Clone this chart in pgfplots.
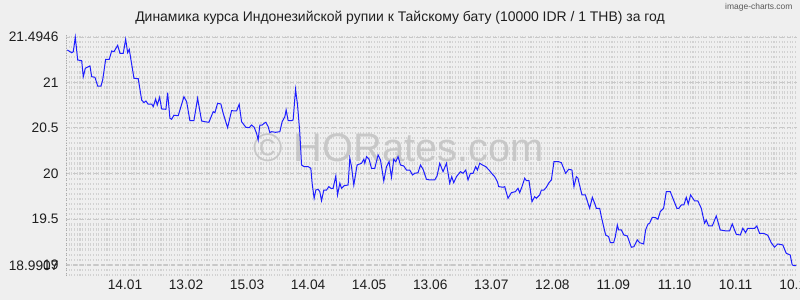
\documentclass[border=0pt]{standalone}
\usepackage{pgfplots}
\pgfplotsset{compat=1.18}
\usepackage{fontspec}
\setmainfont{Liberation Sans}
\definecolor{bg}{HTML}{EFEFEF}
\definecolor{gridc}{HTML}{D2D2D2}
\definecolor{majc}{HTML}{C8C8C8}
\definecolor{linec}{HTML}{1E1EFF}
\definecolor{wm}{HTML}{C2C2C2}
\begin{document}
\begin{tikzpicture}
\fill[bg] (-66bp,-24bp) rectangle (734bp,276bp);
\path[use as bounding box] (-66bp,-24bp) rectangle (734bp,276bp);
\node[font=\fontsize{14}{16}\selectfont, text=black!88] at (334bp,258bp) {Динамика курса Индонезийской рупии к Тайскому бату (10000 IDR / 1 THB) за год};
\node[font=\fontsize{8.5}{9}\selectfont, text=black!65, anchor=east] at (730bp,269bp) {image-charts.com};
\begin{axis}[
  at={(0,0)}, anchor=south west,
  scale only axis, width=731bp, height=241bp,
  xmin=0, xmax=731.5, ymin=18.878, ymax=21.518,
  axis line style={draw=none},
  xtick={59,120.1,181.2,242.3,303.4,364.5,425.6,486.7,547.8,608.9,670,731.1},
  xticklabels={14.01,13.02,15.03,14.04,14.05,13.06,13.07,12.08,11.09,11.10,10.11,10.12},
  ytick={18.9907,19,19.5,20,20.5,21,21.4946},
  yticklabels={18.9907,19,19.5,20,20.5,21,21.4946},
  minor ytick={18.8889,18.9444,...,21.52},
  major tick length=0pt, minor tick length=0pt,
  ymajorgrids, yminorgrids,
  major grid style={majc, line width=0.9bp, dash pattern=on 4bp off 3bp},
  minor grid style={gridc, line width=2.4bp, dash pattern=on 1.1bp off 1.6bp},
  yticklabel style={font=\fontsize{13.8}{14}\selectfont, text=black!88, xshift=-4bp},
  xticklabel style={font=\fontsize{13.8}{14}\selectfont, text=black!88},
  clip=false,
]
\node[font=\fontsize{40}{40}\selectfont, text=wm, opacity=0.85] at (axis cs:333,20.28) {© HORates.com};
\addplot[linec, line width=1bp, mark=none] coordinates {
(1.3,21.354)(5.7,21.324)(7.3,21.335)(9.3,21.4946)(11.7,21.244)(15.7,21.237)(17.3,21.061)(19.3,21.153)
(22.3,21.171)(24,21.179)(25.7,21.061)(29,21.055)(31.7,20.959)(35,20.959)(36.7,21.025)(39.7,21.252)
(43.3,21.252)(45.7,21.343)(48,21.335)(51.7,21.405)(54,21.318)(57.3,21.318)(59.7,21.471)(61.7,21.324)
(63.3,21.361)(68,21.044)(72.3,21.039)(75.7,20.806)(78,20.777)(80,20.795)(82,20.762)(85.7,20.762)
(87.3,20.733)(89.7,20.817)(91.3,20.751)(93.7,20.836)(95.7,20.708)(100,20.704)(101.7,20.886)(104,20.606)
(105.7,20.595)(108,20.639)(112.3,20.634)(118,20.842)(120.7,20.788)(124,20.579)(128,20.579)(131.7,20.825)
(135.7,20.576)(139,20.568)(143,20.562)(147.3,20.678)(149,20.667)(151.7,20.770)(155,20.762)(157.3,20.660)
(161.7,20.503)(165.7,20.689)(170.7,20.686)(173.3,20.759)(175.7,20.568)(180,20.507)(183.3,20.503)(185.7,20.532)
(188.3,20.507)(190.7,20.441)(192.3,20.368)(194,20.532)(196.3,20.532)(198.3,20.551)(200,20.562)(202.3,20.514)
(204,20.448)(205.7,20.459)(209.7,20.452)(214,20.459)(216.3,20.568)(219,20.623)(220.3,20.697)(222.3,20.579)
(225.7,20.579)(227.3,20.587)(229.7,20.923)(231.7,20.751)(234,20.441)(235.7,20.094)(238.3,20.076)(242.3,20.076)
(245,20.058)(246.3,19.894)(248.3,19.729)(250,19.820)(252.3,19.828)(254,19.802)(255.7,19.703)(258,19.820)
(260.7,19.820)(263,19.857)(265,19.839)(267.3,19.839)(270,19.974)(271.7,19.766)(274,19.894)(275.7,19.839)
(278.3,19.867)(282.3,19.875)(284,20.168)(285.7,20.076)(288,19.875)(291.3,20.094)(295.7,20.113)(298,20.157)
(299,20.113)(300.7,20.185)(303.3,20.157)(305.7,20.058)(309,20.058)(312.3,20.204)(314.7,20.149)(318,19.919)
(320.7,20.076)(323.3,20.130)(325.7,19.959)(328,20.157)(330,20.130)(332.3,20.185)(334.7,20.094)(338,20.083)
(340.7,20.039)(344,20.039)(346.7,19.985)(349,20.003)(352.3,20.010)(354.7,20.094)(357.3,20.047)(360.7,19.938)
(364,19.930)(369,19.930)(371.3,19.974)(374,20.113)(377.3,20.021)(380.7,20.113)(384,19.894)(386,19.966)
(388,19.900)(390.7,19.966)(394.7,20.021)(397.3,20.003)(400,20.039)(402.3,19.930)(404.7,20.003)(407.3,20.003)
(410,20.076)(411.7,20.039)(414,20.113)(416.7,20.094)(420,20.076)(423.3,20.039)(427.3,19.985)(429,19.966)
(431.7,19.911)(433,19.857)(437.3,19.850)(439,19.857)(442.3,19.729)(445.7,19.791)(449.7,19.802)(452.3,19.839)
(454,19.791)(456.3,19.857)(459,19.949)(460.7,19.922)(463.3,19.922)(466.3,19.692)(469,19.747)(470.7,19.729)
(474,19.766)(475.7,19.820)(478.3,19.820)(480.7,19.850)(483.3,19.900)(485.7,19.930)(488.3,20.130)(493,20.130)
(495.7,20.119)(500,20.003)(503,20.047)(506.3,20.039)(508.3,19.857)(510.7,19.966)(512.3,19.949)(516.3,19.766)
(519.7,19.766)(524,19.620)(526.7,19.740)(529,19.675)(530.7,19.620)(534,19.620)(535.7,19.528)(540,19.327)
(543,19.309)(544.7,19.243)(548,19.243)(549.7,19.309)(551.7,19.437)(553,19.382)(555.7,19.382)(558.3,19.327)
(561.7,19.317)(565.7,19.193)(568.3,19.199)(571.7,19.273)(574,19.243)(578,19.229)(580,19.382)(582.3,19.445)
(584,19.456)(586.7,19.521)(590,19.517)(592.3,19.499)(594.7,19.583)(598,19.620)(600.7,19.802)(604.7,19.802)
(607.3,19.729)(611.3,19.620)(613.3,19.620)(615.7,19.656)(618.3,19.656)(620.7,19.740)(622.7,19.667)(625,19.766)
(629,19.700)(632.3,19.700)(635.7,19.620)(639,19.456)(640.7,19.492)(643,19.426)(646.7,19.426)(650.7,19.536)
(654.7,19.382)(660.7,19.371)(664,19.371)(666.7,19.448)(670.7,19.335)(674.7,19.327)(677.3,19.401)(680,19.353)
(682.3,19.401)(689,19.401)(691.3,19.426)(694,19.346)(698,19.346)(702.3,19.324)(705.7,19.243)(709,19.193)
(712.3,19.229)(717.3,19.218)(720.7,19.127)(724.7,19.108)(726.7,18.999)(729,18.9907)(730.7,18.9907)
};
\end{axis}
\draw[gridc!80!black, line width=0.8bp, dash pattern=on 1bp off 1.5bp] (0,0) -- (0,241bp);
\end{tikzpicture}
\end{document}
